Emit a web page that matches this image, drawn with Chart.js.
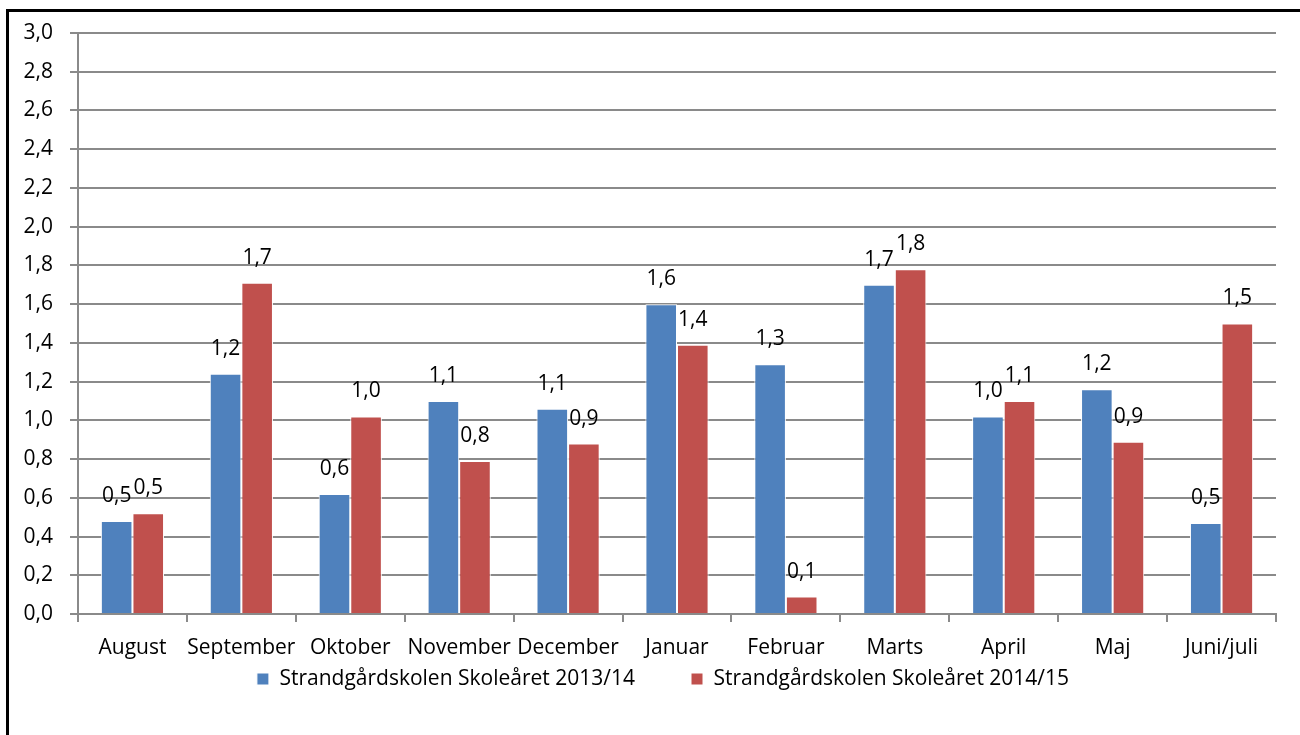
<!DOCTYPE html>
<html>
<head>
<meta charset="utf-8">
<script src="https://cdn.jsdelivr.net/npm/chart.js@4"></script>
<style>
    html, body { margin: 0; padding: 0; background: #fff; overflow: hidden; }
    #frame {
        position: absolute; left: 6px; top: 9px;
        width: 1400px; height: 800px;
        border: 3px solid #000;
    }
    #chart { position: absolute; left: 0; top: 0; }
</style>
</head>
<body>
<div id="frame"></div>
<canvas id="chart" width="1300" height="735"></canvas>
<script>
// Months on the x axis
const months = ['August', 'September', 'Oktober', 'November', 'December', 'Januar',
    'Februar', 'Marts', 'April', 'Maj', 'Juni/juli'];

// Series values
const series1Label = 'Strandgårdskolen Skoleåret 2013/14';
const series1 = [0.48, 1.24, 0.62, 1.10, 1.06, 1.60, 1.29, 1.70, 1.02, 1.16, 0.47];
const series2Label = 'Strandgårdskolen Skoleåret 2014/15';
const series2 = [0.52, 1.71, 1.02, 0.79, 0.88, 1.39, 0.09, 1.78, 1.10, 0.89, 1.50];

// Y axis
const yMin = 0;
const yMax = 3;
const yStep = 0.2;

const FONT = '"Open Sans", "DejaVu Sans", sans-serif';
const FONT_SIZE = 21;
const GRID = '#8a8a8a';

function formatComma(v) {
    return v.toFixed(1).replace('.', ',');
}

// Value labels above each bar
const barLabels = {
    id: 'barLabels',
    afterDatasetsDraw(chart) {
        const ctx = chart.ctx;
        ctx.save();
        ctx.font = FONT_SIZE + 'px ' + FONT;
        ctx.fillStyle = '#000';
        ctx.textAlign = 'center';
        ctx.textBaseline = 'middle';
        chart.data.datasets.forEach((ds, i) => {
            chart.getDatasetMeta(i).data.forEach((bar, j) => {
                ctx.fillText(formatComma(ds.data[j]), bar.x, bar.y - 25);
            });
        });
        ctx.restore();
    }
};

// Keep the legend short and place it like the original
const legendPlace = {
    id: 'legendPlace',
    beforeUpdate(chart) {
        const lg = chart.legend;
        if (lg && !lg._patched) {
            const fit = lg.fit;
            lg.fit = function() {
                fit.call(this);
                this.height = 71;
            };
            lg._patched = true;
        }
    },
    afterLayout(chart) {
        const lg = chart.legend;
        const pad = lg.options.labels.padding;
        lg.top = 679 - FONT_SIZE / 2 - pad;
        lg.bottom = chart.height;
        lg.height = lg.bottom - lg.top;
        lg.left += 25;
        lg.right += 25;
    }
};

document.addEventListener('DOMContentLoaded', () => {
    const ctx = document.getElementById('chart').getContext('2d');
    new Chart(ctx, {
        type: 'bar',
        data: {
            labels: months,
            datasets: [
                {
                    label: series1Label,
                    data: series1,
                    backgroundColor: '#4f81bd',
                    borderColor: '#ffffff',
                    borderWidth: 1
                },
                {
                    label: series2Label,
                    data: series2,
                    backgroundColor: '#c0504d',
                    borderColor: '#ffffff',
                    borderWidth: 1
                }
            ]
        },
        options: {
            responsive: false,
            animation: false,
            devicePixelRatio: 1,
            layout: {
                padding: { left: 0, right: 24, top: 33, bottom: 0 }
            },
            datasets: {
                bar: {
                    categoryPercentage: 0.58,
                    barPercentage: 1.0
                }
            },
            plugins: {
                title: { display: false },
                tooltip: { enabled: false },
                legend: {
                    position: 'bottom',
                    labels: {
                        color: '#000',
                        font: { family: FONT, size: FONT_SIZE },
                        boxWidth: 12,
                        boxHeight: 12,
                        padding: 56
                    }
                }
            },
            scales: {
                x: {
                    offset: true,
                    grid: {
                        offset: true,
                        drawOnChartArea: false,
                        drawTicks: true,
                        tickLength: 8,
                        color: GRID,
                        lineWidth: 2
                    },
                    border: { display: true, color: GRID, width: 2 },
                    ticks: {
                        color: '#000',
                        font: { family: FONT, size: FONT_SIZE },
                        padding: 13,
                        maxRotation: 0,
                        autoSkip: false
                    },
                    afterFit(scale) { scale.height = 50; }
                },
                y: {
                    min: yMin,
                    max: yMax,
                    grid: {
                        color: GRID,
                        lineWidth: 2,
                        drawTicks: true,
                        tickLength: 8
                    },
                    border: { display: true, color: GRID, width: 2 },
                    ticks: {
                        stepSize: yStep,
                        color: '#000',
                        font: { family: FONT, size: FONT_SIZE },
                        padding: 17,
                        callback: function(value) {
                            return formatComma(value);
                        }
                    },
                    afterFit(scale) { scale.width = 78; }
                }
            }
        },
        plugins: [barLabels, legendPlace]
    });
});
</script>
</body>
</html>
